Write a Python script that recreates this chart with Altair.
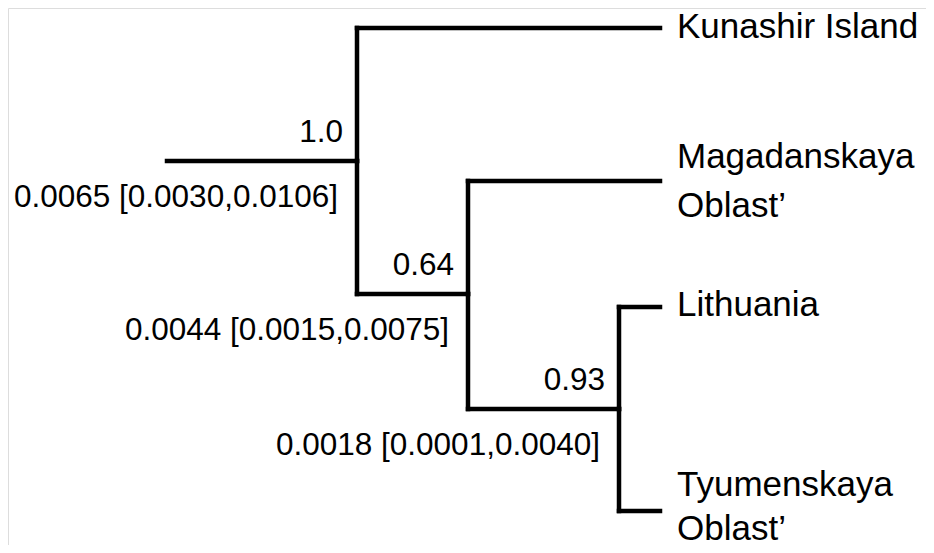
import altair as alt
import pandas as pd

# Tree nodes (horizontal depth and vertical position)
node_names = ["root", "n2", "n3", "Kunashir", "Magadanskaya", "Lithuania", "Tyumenskaya"]
node_parent = ["stem", "root", "n2", "root", "n2", "n3", "n3"]
node_x = [357, 468, 619, 660, 660, 660, 660]
node_y = [161, 294, 409, 28, 181, 307, 511]
stem_x = 167

tip_nodes = ["Kunashir", "Magadanskaya", "Lithuania", "Tyumenskaya"]
tip_labels = ["Kunashir Island", "Magadanskaya\nOblast\u2019", "Lithuania", "Tyumenskaya\nOblast\u2019"]

internal_nodes = ["root", "n2", "n3"]
support_values = ["1.0", "0.64", "0.93"]
branch_lengths = ["0.0065 [0.0030,0.0106]", "0.0044 [0.0015,0.0075]", "0.0018 [0.0001,0.0040]"]

pos = {n: (x, y) for n, x, y in zip(node_names, node_x, node_y)}
pos["stem"] = (stem_x, node_y[0])

segs = []
for n, p in zip(node_names, node_parent):
    nx, ny = pos[n]
    px, py = pos[p]
    segs.append({"x": px, "x2": nx, "y": ny, "y2": ny})
    if p != "stem":
        segs.append({"x": px, "x2": px, "y": py, "y2": ny})
seg_df = pd.DataFrame(segs)

tips_df = pd.DataFrame({
    "node": tip_nodes,
    "x": [pos[n][0] for n in tip_nodes],
    "y": [pos[n][1] for n in tip_nodes],
    "label": tip_labels,
})
int_df = pd.DataFrame({
    "x": [pos[n][0] for n in internal_nodes],
    "y": [pos[n][1] for n in internal_nodes],
    "support": support_values,
    "length": branch_lengths,
})

W, H = 918, 537
xs = alt.Scale(domain=[8, 8 + W], range=[0, W], nice=False, zero=False)
ys = alt.Scale(domain=[8, 8 + H], range=[0, H], nice=False, zero=False)

X = lambda f="x": alt.X(f, type="quantitative", scale=xs, axis=None)
Y = lambda f="y": alt.Y(f, type="quantitative", scale=ys, axis=None)

lines = alt.Chart(seg_df).mark_rule(
    color="black", strokeWidth=4.5, strokeCap="square"
).encode(x=X(), x2="x2", y=Y(), y2="y2")

tip_style = dict(align="left", baseline="middle", font="Liberation Sans", fontSize=35,
                 lineBreak="\n", dx=17, color="black")


def tip_layer(node, dy, lh=49):
    return alt.Chart(tips_df).transform_filter(
        alt.datum.node == node
    ).mark_text(dy=dy, lineHeight=lh, **tip_style).encode(x=X(), y=Y(), text="label:N")


tip_layers = [
    tip_layer("Kunashir", -1),
    tip_layer("Magadanskaya", -24.5, 49),
    tip_layer("Lithuania", -2),
    tip_layer("Tyumenskaya", -26, 44),
]

support = alt.Chart(int_df).mark_text(
    align="right", baseline="alphabetic", font="Liberation Sans", fontSize=31.5,
    dx=-14, dy=-19, color="black"
).encode(x=X(), y=Y(), text="support:N")

lengths = alt.Chart(int_df).mark_text(
    align="right", baseline="alphabetic", font="Liberation Sans", fontSize=31.5,
    dx=-19, dy=46, color="black"
).encode(x=X(), y=Y(), text="length:N")

chart = alt.layer(lines, *tip_layers, support, lengths).properties(
    width=W, height=H, padding=0, autosize=alt.AutoSizeParams(type="none")
).configure_view(strokeWidth=0, stroke="transparent").configure(background="white")

chart.save("out.html", embed_options={"renderer": "svg", "actions": False})
